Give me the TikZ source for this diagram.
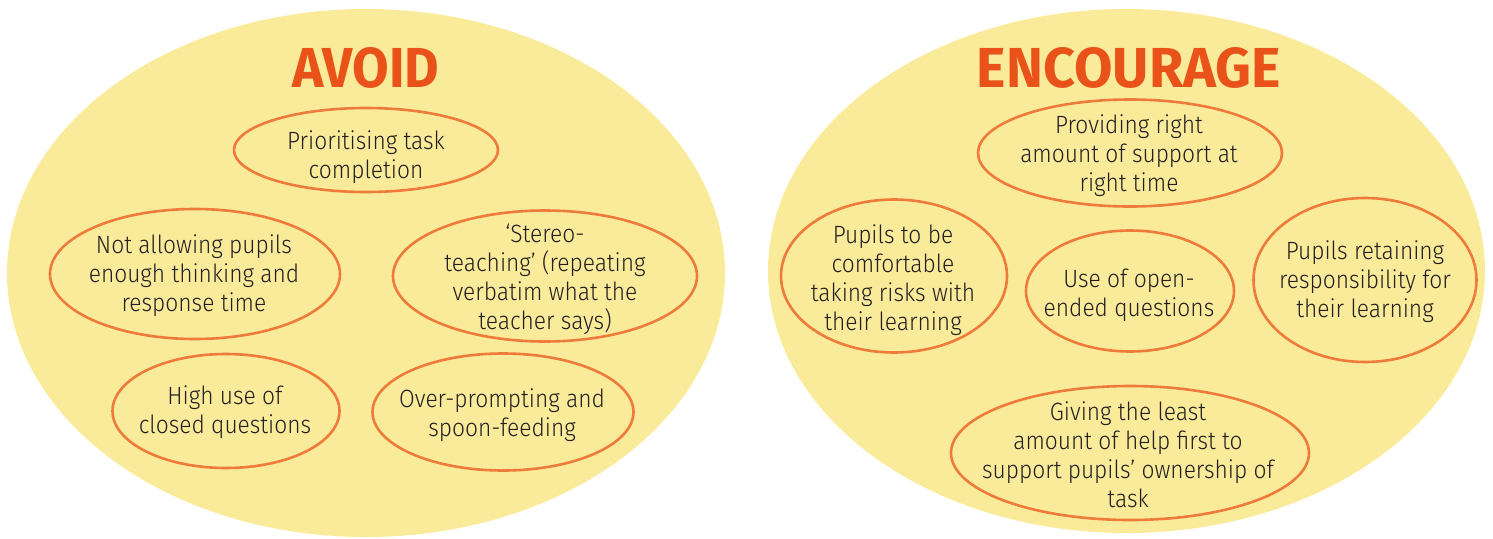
\documentclass[tikz,border=0pt]{standalone}
\usepackage{fontspec}
\usepackage{graphicx}
\setmainfont{Fira Sans}[UprightFont=* Light, BoldFont=* Bold, FakeStretch=0.91]
\usetikzlibrary{shapes.geometric}
\definecolor{ylw}{HTML}{FAEB9B}
\definecolor{org}{HTML}{EF7B3B}
\definecolor{ttlc}{HTML}{E9531A}
\definecolor{ink}{HTML}{231F20}
\begin{document}
\begin{tikzpicture}[x=1pt,y=-1pt,
  big/.style={ellipse, fill=ylw, draw=none, inner sep=0pt},
  item/.style={ellipse, draw=org, line width=2.6pt, inner sep=0pt},
  txt/.style={align=center, text=ink, font=\fontsize{25}{29}\selectfont, inner sep=0pt},
  ttl/.style={text=ttlc, inner sep=0pt}]
\useasboundingbox (0,0) rectangle (1493,538);
% big ellipses
\node[big, minimum width=718pt, minimum height=528pt] (L) at (366,273) {};
\node[big, minimum width=717pt, minimum height=524pt] (R) at (1126.5,271) {};
% titles
\node[ttl] (avoid) at (366,68) {\resizebox{147pt}{40pt}{\bfseries AVOID}};
\node[ttl] (enc) at (1129,68) {\resizebox{304pt}{40pt}{\bfseries ENCOURAGE}};
% left items
\node[item, minimum width=264pt, minimum height=84pt] (a1) at (366,150) {};
\node[txt] (t1) at (366,157) {Prioritising task\\completion};
\node[item, minimum width=290pt, minimum height=130pt] (a2) at (195,274) {};
\node[txt] (t2) at (194,276) {Not allowing pupils\\enough thinking and\\response time};
\node[item, minimum width=304pt, minimum height=131pt] (a3) at (545,276) {};
\node[txt] (t3) at (545,279) {‘Stereo-\\teaching’ (repeating\\verbatim what the\\teacher says)};
\node[item, minimum width=227pt, minimum height=114pt] (a4) at (226,411) {};
\node[txt] (t4) at (225,412) {High use of\\closed questions};
\node[item, minimum width=261pt, minimum height=117pt] (a5) at (503,412) {};
\node[txt] (t5) at (502,415) {Over-prompting and\\spoon-feeding};
% right items
\node[item, minimum width=304pt, minimum height=107pt] (b1) at (1130,153) {};
\node[txt] (s1) at (1129,156) {Providing right\\amount of support at\\right time};
\node[item, minimum width=226pt, minimum height=153pt] (b2) at (894,276) {};
\node[txt] (s2) at (893,280) {Pupils to be\\comfortable\\taking risks with\\their learning};
\node[item, minimum width=208pt, minimum height=121pt] (b3) at (1130,291) {};
\node[txt] (s3) at (1129,295) {Use of open-\\ended questions};
\node[item, minimum width=223pt, minimum height=164pt] (b4) at (1365,280) {};
\node[txt] (s4) at (1365,282) {Pupils retaining\\responsibility for\\their learning};
\node[item, minimum width=358pt, minimum height=134pt] (b5) at (1130,453) {};
\node[txt] (s5) at (1128,455) {Giving the least\\amount of help first to\\support pupils’ ownership of\\task};
\end{tikzpicture}
\end{document}
